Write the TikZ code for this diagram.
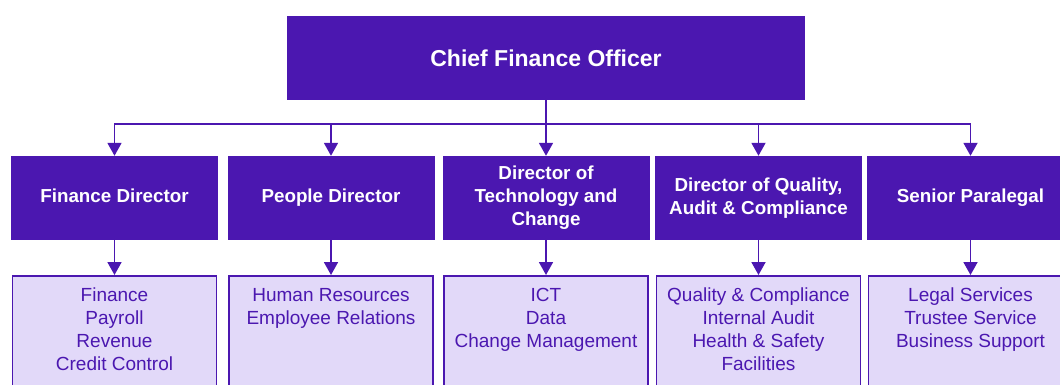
\documentclass[tikz,border=0pt]{standalone}
\usepackage{fontspec}
\setmainfont{Liberation Sans}
\usetikzlibrary{arrows.meta}
\definecolor{orgpurple}{HTML}{4B17B0}
\definecolor{orglilac}{HTML}{E2D9F9}
\newcommand{\unitlines}[1]{\parbox[t][110pt][t]{200pt}{\centering\strut #1}}

\begin{document}
\begin{tikzpicture}[x=1pt,y=-1pt,
    head/.style={fill=orgpurple, text=white, font=\bfseries\fontsize{18.8}{23}\selectfont,
        align=center, minimum width=207pt, minimum height=84pt, inner sep=0pt},
    unit/.style={draw=orgpurple, line width=1.8pt, fill=orglilac, text=orgpurple,
        font=\fontsize{19}{23}\selectfont, anchor=north, minimum width=204pt,
        inner xsep=0pt, inner ysep=9pt},
    link/.style={orgpurple, line width=1.8pt, -{Triangle[width=14pt,length=13pt]}},
]
\useasboundingbox (0,0) rectangle (1060,385);
\clip (0,0) rectangle (1060,385);

% top box
\node[head, minimum width=518pt, font=\bfseries\fontsize{23}{28}\selectfont] (cfo) at (546,58) {Chief Finance Officer};

% directors
\node[head] (fin) at (114.5,198) {\strut Finance Director};
\node[head] (ppl) at (331,198) {\strut People Director};
\node[head] (tech) at (546,198) {Director of\\Technology and\\Change};
\node[head] (qual) at (758.5,198) {Director of Quality,\\Audit \& Compliance};
\node[head] (legal) at (970.5,198) {\strut Senior Paralegal};

% teams
\node[unit] (finteam) at (114.5,275) {\unitlines{Finance\\Payroll\\Revenue\\Credit Control}};
\node[unit] (pplteam) at (331,275) {\unitlines{Human Resources\\Employee Relations}};
\node[unit] (techteam) at (546,275) {\unitlines{ICT\\Data\\Change Management}};
\node[unit] (qualteam) at (758.5,275) {\unitlines{Quality \& Compliance\\Internal Audit\\Health \& Safety\\Facilities}};
\node[unit] (legalteam) at (970.5,275) {\unitlines{Legal Services\\Trustee Service\\Business Support}};

\coordinate (bus) at (546,124);
\draw[orgpurple, line width=1.8pt] (cfo.south) -- (bus);
\draw[link] (bus) -| (fin.north);
\draw[link] (bus) -| (ppl.north);
\draw[link] (bus) -- (tech.north);
\draw[link] (bus) -| (qual.north);
\draw[link] (bus) -| (legal.north);

\draw[link] (fin) -- (finteam);
\draw[link] (ppl) -- (pplteam);
\draw[link] (tech) -- (techteam);
\draw[link] (qual) -- (qualteam);
\draw[link] (legal) -- (legalteam);

\end{tikzpicture}
\end{document}
